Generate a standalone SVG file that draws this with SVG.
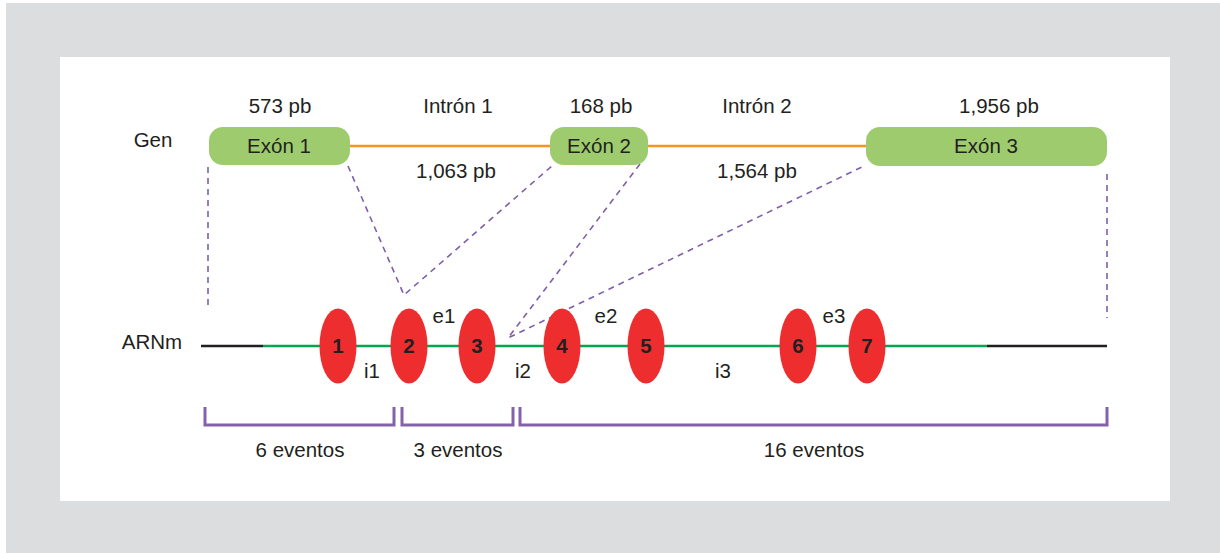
<svg xmlns="http://www.w3.org/2000/svg" width="1220" height="553" viewBox="0 0 1220 553">
<style>
text{font-family:"Liberation Sans",Arial,sans-serif;font-size:20.5px;fill:#231f20}
.c{text-anchor:middle}
.num{font-weight:bold;text-anchor:middle}
.exon{fill:#9ecb6e}
.exo{fill:#ee2e2e}
.dash{stroke:#7e5fab;stroke-width:1.6;stroke-dasharray:6 5;fill:none}
.br{stroke:#8462aa;stroke-width:3;fill:none}
</style>
<rect x="0" y="0" width="1220" height="553" fill="#ffffff"/>
<rect x="6" y="3" width="1214" height="550" fill="#dcdddf"/>
<rect x="60" y="57" width="1110" height="444" fill="#ffffff"/>
<g id="connectors">
<line x1="350" y1="146" x2="550" y2="146" stroke="#f7941d" stroke-width="2.5"/>
<line x1="648" y1="146" x2="866" y2="146" stroke="#f7941d" stroke-width="2.5"/>
<line class="dash" x1="208" y1="167" x2="208" y2="307"/>
<line class="dash" x1="1107" y1="174" x2="1107" y2="318"/>
<polyline class="dash" points="348,166 404,295 553,165"/>
<polyline class="dash" points="640,164 508,338 866,165"/>
<line x1="201" y1="346" x2="263" y2="346" stroke="#231f20" stroke-width="2.5"/>
<line x1="263" y1="346" x2="987" y2="346" stroke="#00a651" stroke-width="2.5"/>
<line x1="987" y1="346" x2="1107" y2="346" stroke="#231f20" stroke-width="2.5"/>
<polyline class="br" points="205,407 205,425 394,425 394,407"/>
<polyline class="br" points="402,407 402,425 513,425 513,407"/>
<polyline class="br" points="520,407 520,425 1107,425 1107,407"/>
</g>
<g id="labels">
<text x="153" y="147" class="c">Gen</text>
<text x="152" y="349" class="c">ARNm</text>
<text x="280" y="113" class="c">573 pb</text>
<text x="458" y="113" class="c">Intrón 1</text>
<text x="601" y="113" class="c">168 pb</text>
<text x="757" y="113" class="c">Intrón 2</text>
<text x="999" y="113" class="c">1,956 pb</text>
<text x="456" y="178" class="c">1,063 pb</text>
<text x="757" y="178" class="c">1,564 pb</text>
<text x="444" y="323" class="c">e1</text>
<text x="606" y="323" class="c">e2</text>
<text x="834" y="323" class="c">e3</text>
<text x="372" y="378" class="c">i1</text>
<text x="523" y="378" class="c">i2</text>
<text x="723" y="378" class="c">i3</text>
<text x="300" y="457" class="c">6 eventos</text>
<text x="458" y="457" class="c">3 eventos</text>
<text x="814" y="457" class="c">16 eventos</text>
</g>
<g id="exon1"><rect class="exon" x="209" y="127" width="141" height="38" rx="14"/><text x="279" y="153" class="c">Exón 1</text></g>
<g id="exon2"><rect class="exon" x="550" y="127" width="98" height="38" rx="14"/><text x="599" y="153" class="c">Exón 2</text></g>
<g id="exon3"><rect class="exon" x="866" y="127" width="241" height="39" rx="14"/><text x="986" y="153" class="c">Exón 3</text></g>
<g id="e1"><ellipse class="exo" cx="338" cy="346" rx="18.5" ry="37.5"/><text x="338" y="353" class="num">1</text></g>
<g id="e2"><ellipse class="exo" cx="409" cy="346" rx="18.5" ry="37.5"/><text x="409" y="353" class="num">2</text></g>
<g id="e3"><ellipse class="exo" cx="477" cy="346" rx="18.5" ry="37.5"/><text x="477" y="353" class="num">3</text></g>
<g id="e4"><ellipse class="exo" cx="562" cy="346" rx="18.5" ry="37.5"/><text x="562" y="353" class="num">4</text></g>
<g id="e5"><ellipse class="exo" cx="646" cy="346" rx="18.5" ry="37.5"/><text x="646" y="353" class="num">5</text></g>
<g id="e6"><ellipse class="exo" cx="798" cy="346" rx="18.5" ry="37.5"/><text x="798" y="353" class="num">6</text></g>
<g id="e7"><ellipse class="exo" cx="867" cy="346" rx="18.5" ry="37.5"/><text x="867" y="353" class="num">7</text></g>
</svg>
